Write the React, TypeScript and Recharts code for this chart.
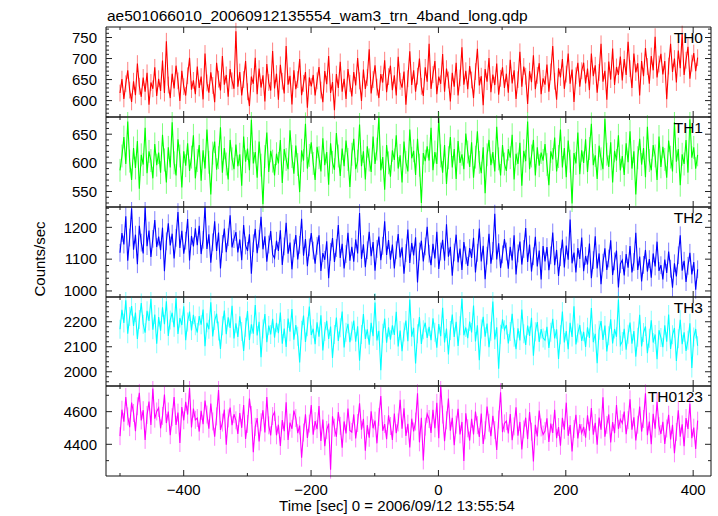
import { LineChart, Line, XAxis, YAxis, ErrorBar } from "recharts";

// wam3 light curve, 4 bands + sum, ~3 s bins
const T_START = -500;
const T_END = 407;

const th0 = [
  618, 651, 604, 640, 672, 625, 597, 646, 613, 688, 634, 609, 655, 621, 666, 590, 643, 628, 679, 611,
  652, 623, 695, 618, 741, 637, 606, 664, 629, 683, 647, 599, 671, 633, 612, 659, 702, 626, 648, 615,
  681, 630, 657, 603, 712, 642, 619, 667, 636, 596, 690, 651, 624, 706, 638, 661, 609, 675, 647, 628,
  765, 633, 668, 612, 650, 694, 621, 587, 657, 640, 702, 615, 676, 631, 660, 598, 687, 643, 624, 718,
  629, 664, 602, 685, 646, 617, 730, 638, 659, 591, 672, 627, 650, 699, 613, 641, 668, 583, 655, 634,
  661, 612, 647, 680, 625, 596, 670, 639, 706, 618, 644, 577, 663, 630, 692, 621, 652, 604, 675, 641,
  610, 668, 636, 701, 647, 599, 674, 628, 655, 722, 617, 650, 684, 632, 606, 663, 643, 696, 620, 657,
  683, 625, 660, 612, 704, 646, 631, 669, 590, 652, 717, 637, 672, 621, 658, 700, 634, 611, 679, 645,
  735, 628, 662, 694, 615, 657, 640, 711, 621, 676, 649, 598, 666, 633, 690, 612, 654, 727, 638, 671,
  627, 682, 649, 606, 669, 723, 636, 658, 589, 675, 645, 701, 620, 662, 637, 688, 614, 653, 679, 630,
  664, 619, 697, 641, 672, 604, 650, 716, 633, 681, 658, 592, 670, 644, 708, 627, 660, 689, 615, 653,
  638, 686, 621, 668, 730, 646, 602, 677, 655, 699, 628, 663, 712, 640, 674, 597, 659, 690, 633, 671,
  690, 641, 676, 625, 712, 658, 684, 619, 667, 735, 645, 671, 602, 693, 650, 724, 637, 680, 661, 705,
  648, 699, 661, 740, 676, 630, 712, 667, 689, 612, 694, 658, 725, 681, 640, 706, 672, 752, 655, 687,
  711, 662, 694, 603, 682, 735, 668, 700, 643, 719, 677, 758, 661, 696, 728, 652, 689, 713, 670, 702,
];

const th1 = [
  587, 612, 645, 598, 672, 603, 570, 626, 591, 638, 555, 614, 597, 661, 582, 620, 604, 573, 633, 596,
  618, 583, 649, 605, 566, 627, 592, 671, 600, 578, 641, 612, 557, 620, 595, 634, 586, 610, 648, 573,
  604, 631, 569, 622, 590, 658, 601, 545, 617, 637, 588, 609, 662, 583, 626, 598, 571, 640, 607, 589,
  632, 594, 615, 560, 646, 602, 625, 587, 675, 599, 619, 574, 637, 596, 528, 611, 653, 584, 621, 603,
  578, 616, 599, 640, 565, 624, 606, 589, 657, 611, 581, 630, 597, 549, 622, 604, 668, 590, 613, 636,
  599, 570, 628, 609, 585, 643, 596, 619, 562, 634, 601, 588, 652, 612, 577, 625, 594, 639, 606, 558,
  615, 642, 589, 603, 667, 594, 620, 571, 629, 605, 584, 646, 598, 624, 680, 587, 610, 553, 631, 600,
  576, 622, 605, 648, 590, 613, 566, 637, 601, 585, 658, 608, 621, 579, 642, 596, 530, 617, 603, 629,
  604, 661, 587, 619, 598, 678, 612, 583, 631, 563, 609, 645, 592, 624, 572, 638, 600, 615, 589, 651,
  619, 593, 636, 574, 610, 655, 601, 582, 627, 547, 614, 640, 596, 619, 585, 663, 607, 578, 631, 598,
  586, 624, 609, 649, 571, 616, 598, 635, 560, 621, 603, 672, 589, 612, 640, 578, 627, 595, 618, 604,
  633, 597, 561, 620, 606, 644, 585, 611, 658, 592, 626, 575, 639, 603, 529, 617, 599, 653, 580, 622,
  600, 641, 584, 625, 668, 596, 613, 572, 630, 607, 589, 677, 615, 593, 636, 566, 621, 604, 648, 587,
  612, 579, 634, 601, 655, 590, 620, 545, 609, 642, 597, 626, 575, 663, 604, 587, 631, 612, 570, 646,
  593, 628, 606, 574, 639, 610, 585, 671, 602, 624, 561, 615, 598, 640, 583, 676, 609, 627, 590, 614,
];

const th2 = [
  1120, 1182, 1146, 1235, 1095, 1168, 1260, 1130, 1177, 1084, 1205, 1152, 1118, 1263, 1141, 1190, 1107, 1164, 1223, 1138,
  1171, 1128, 1199, 1062, 1156, 1213, 1143, 1180, 1102, 1167, 1248, 1135, 1189, 1117, 1158, 1226, 1096, 1173, 1140, 1197,
  1144, 1205, 1116, 1161, 1266, 1132, 1178, 1089, 1153, 1219, 1126, 1184, 1071, 1148, 1196, 1122, 1169, 1238, 1137, 1163,
  1185, 1121, 1162, 1097, 1207, 1143, 1126, 1178, 1054, 1150, 1195, 1119, 1164, 1233, 1131, 1172, 1092, 1146, 1188, 1115,
  1103, 1158, 1126, 1191, 1082, 1140, 1214, 1117, 1152, 1068, 1134, 1176, 1099, 1145, 1227, 1111, 1163, 1078, 1137, 1182,
  1127, 1086, 1142, 1175, 1063, 1119, 1098, 1156, 1040, 1123, 1166, 1091, 1135, 1207, 1104, 1148, 1071, 1116, 1183, 1095,
  1139, 1092, 1162, 1118, 1245, 1101, 1147, 1075, 1128, 1186, 1109, 1154, 1064, 1132, 1171, 1097, 1142, 1219, 1113, 1160,
  1098, 1146, 1071, 1128, 1179, 1105, 1137, 1054, 1119, 1193, 1088, 1151, 1112, 1169, 1027, 1124, 1158, 1093, 1140, 1202,
  1117, 1081, 1148, 1102, 1186, 1069, 1124, 1161, 1095, 1210, 1108, 1139, 1048, 1121, 1177, 1090, 1133, 1066, 1154, 1112,
  1079, 1135, 1104, 1167, 1058, 1120, 1196, 1093, 1142, 1037, 1111, 1180, 1086, 1126, 1243, 1099, 1150, 1072, 1115, 1163,
  1124, 1070, 1139, 1096, 1175, 1052, 1118, 1155, 1083, 1132, 1198, 1091, 1146, 1061, 1109, 1170, 1077, 1127, 1036, 1141,
  1093, 1138, 1065, 1112, 1184, 1081, 1129, 1047, 1106, 1162, 1074, 1143, 1098, 1225, 1087, 1121, 1058, 1135, 1101, 1168,
  1062, 1110, 1083, 1149, 1040, 1097, 1172, 1071, 1118, 1021, 1089, 1134, 1066, 1102, 1159, 1050, 1093, 1127, 1011, 1085,
  1097, 1049, 1116, 1073, 1141, 1058, 1091, 1183, 1066, 1108, 1030, 1082, 1129, 1061, 1100, 1042, 1118, 1077, 1155, 1063,
  1081, 1036, 1099, 1057, 1124, 1070, 1010, 1087, 1046, 1112, 1175, 1064, 1095, 1028, 1079, 1120, 1052, 1091, 1004, 1068,
];

const th3 = [
  2170, 2248, 2195, 2286, 2152, 2221, 2263, 2183, 2237, 2131, 2209, 2275, 2190, 2156, 2244, 2203, 2291, 2168, 2229, 2112,
  2219, 2164, 2258, 2190, 2282, 2143, 2207, 2236, 2178, 2294, 2151, 2215, 2187, 2262, 2126, 2199, 2241, 2165, 2228, 2184,
  2157, 2223, 2188, 2249, 2102, 2196, 2170, 2278, 2141, 2205, 2232, 2163, 2091, 2184, 2245, 2150, 2218, 2175, 2264, 2133,
  2194, 2139, 2222, 2161, 2083, 2178, 2243, 2127, 2190, 2152, 2267, 2145, 2200, 2058, 2171, 2231, 2118, 2185, 2149, 2212,
  2136, 2196, 2154, 2237, 2112, 2173, 2099, 2213, 2160, 2251, 2128, 2187, 2142, 2037, 2166, 2225, 2119, 2180, 2261, 2147,
  2172, 2110, 2198, 2140, 2226, 2085, 2161, 2204, 2131, 2181, 2055, 2149, 2217, 2123, 2176, 2241, 2097, 2158, 2192, 2118,
  2163, 2205, 2120, 2182, 2044, 2149, 2231, 2131, 2170, 2108, 2196, 2142, 2277, 2125, 2164, 2006, 2154, 2213, 2116, 2178,
  2128, 2186, 2147, 2240, 2101, 2165, 2082, 2159, 2205, 2122, 2289, 2140, 2176, 2033, 2152, 2219, 2111, 2168, 2196, 2135,
  2180, 2126, 2214, 2158, 2096, 2191, 2142, 2256, 2117, 2173, 2069, 2165, 2229, 2139, 2200, 2103, 2184, 2292, 2146, 2177,
  2134, 2201, 2157, 2265, 2121, 2186, 2046, 2171, 2220, 2140, 2193, 2098, 2162, 2281, 2129, 2178, 2012, 2150, 2210, 2168,
  2187, 2113, 2161, 2232, 2138, 2090, 2174, 2125, 2249, 2152, 2107, 2185, 2143, 2216, 2064, 2160, 2199, 2119, 2171, 2135,
  2126, 2180, 2095, 2158, 2212, 2133, 2170, 2051, 2148, 2241, 2117, 2163, 2090, 2196, 2139, 2262, 2109, 2155, 2187, 2123,
  2160, 2099, 2178, 2135, 2255, 2118, 2152, 2034, 2166, 2203, 2127, 2185, 2081, 2144, 2210, 2113, 2171, 2140, 2289, 2106,
  2121, 2172, 2088, 2150, 2197, 2112, 2163, 2060, 2138, 2228, 2101, 2157, 2181, 2074, 2134, 2206, 2117, 2149, 2050, 2166,
  2137, 2098, 2186, 2120, 2229, 2091, 2148, 2175, 2043, 2132, 2208, 2110, 2158, 2083, 2126, 2194, 2015, 2139, 2171, 2104,
];

const th0123 = [
  4450, 4612, 4538, 4690, 4571, 4505, 4655, 4592, 4480, 4633, 4715, 4546, 4609, 4427, 4580, 4662, 4519, 4741, 4557, 4601,
  4623, 4498, 4574, 4705, 4530, 4601, 4456, 4566, 4689, 4519, 4594, 4408, 4628, 4547, 4660, 4582, 4745, 4503, 4619, 4550,
  4561, 4478, 4605, 4523, 4668, 4582, 4496, 4650, 4540, 4446, 4571, 4733, 4488, 4533, 4612, 4397, 4559, 4625, 4517, 4584,
  4547, 4463, 4592, 4501, 4640, 4433, 4525, 4680, 4580, 4352, 4507, 4561, 4418, 4535, 4609, 4472, 4690, 4516, 4455, 4573,
  4598, 4455, 4520, 4390, 4548, 4480, 4657, 4427, 4533, 4495, 4606, 4561, 4468, 4515, 4318, 4472, 4584, 4439, 4527, 4640,
  4459, 4542, 4493, 4635, 4420, 4552, 4388, 4488, 4527, 4245, 4571, 4502, 4446, 4598, 4513, 4379, 4540, 4466, 4619, 4485,
  4475, 4583, 4436, 4530, 4651, 4489, 4556, 4361, 4517, 4440, 4602, 4498, 4545, 4406, 4568, 4695, 4483, 4524, 4432, 4577,
  4512, 4427, 4589, 4468, 4534, 4673, 4495, 4620, 4451, 4526, 4380, 4557, 4479, 4539, 4712, 4412, 4563, 4301, 4508, 4586,
  4555, 4470, 4611, 4498, 4654, 4437, 4760, 4582, 4419, 4547, 4680, 4483, 4562, 4395, 4520, 4618, 4461, 4537, 4298, 4590,
  4498, 4423, 4556, 4461, 4600, 4517, 4445, 4589, 4402, 4486, 4631, 4532, 4450, 4575, 4487, 4365, 4552, 4719, 4474, 4528,
  4542, 4466, 4585, 4425, 4510, 4627, 4453, 4537, 4368, 4491, 4563, 4432, 4598, 4477, 4295, 4519, 4448, 4606, 4503, 4460,
  4481, 4559, 4415, 4527, 4470, 4612, 4438, 4506, 4391, 4562, 4489, 4655, 4452, 4518, 4357, 4494, 4581, 4436, 4524, 4469,
  4507, 4440, 4578, 4483, 4622, 4459, 4531, 4398, 4564, 4490, 4688, 4447, 4519, 4583, 4412, 4536, 4468, 4640, 4495, 4553,
  4529, 4601, 4462, 4548, 4675, 4490, 4565, 4423, 4520, 4631, 4478, 4555, 4712, 4456, 4539, 4401, 4587, 4496, 4660, 4511,
  4463, 4538, 4402, 4497, 4581, 4430, 4519, 4345, 4476, 4608, 4447, 4522, 4389, 4561, 4494, 4648, 4438, 4502, 4371, 4545,
];

// typical 1-sigma error bar per band (counts/sec)
const bandErrors = [20, 20, 28, 38, 55];

const xMajor = [-400, -200, 0, 200, 400];
const xMinor = [-500, -300, -100, 100, 300];

const panels = [
  { name: "TH0", color: "#ff0000", values: th0, domain: [561, 775], major: [600, 650, 700, 750], minorStep: 10 },
  { name: "TH1", color: "#00ff00", values: th1, domain: [523, 680], major: [550, 600, 650], minorStep: 10 },
  { name: "TH2", color: "#0000ff", values: th2, domain: [981, 1264], major: [1000, 1100, 1200], minorStep: 20 },
  { name: "TH3", color: "#00ffff", values: th3, domain: [1943, 2299], major: [2000, 2100, 2200], minorStep: 20 },
  { name: "TH0123", color: "#ff00ff", values: th0123, domain: [4206, 4757], major: [4400, 4600], minorStep: 100 },
];

const W = 718;
const X_DOMAIN: [number, number] = [-522, 428];
const PLOT_LEFT = 106;
const PLOT_RIGHT = 711;
const tops = [27, 117, 207, 297, 386];
const heights = [90, 90, 90, 89, 90];
const FONT = "'Liberation Sans', Arial, Helvetica, sans-serif";
const TICK = "#222";

const minus = (v: number) => String(v).replace("-", "\u2212");

function yTicks(domain: number[], step: number) {
  const out: number[] = [];
  for (let v = Math.ceil(domain[0] / step) * step; v <= domain[1]; v += step) out.push(v);
  return out;
}

// ticks point into the plot, majors longer; labels only where asked
const tickMark =
  (side: "left" | "right" | "top" | "bottom", majors: number[], withText: boolean, long: number, short: number) =>
  (p: any) => {
    const v = p.payload.value;
    const isMajor = majors.includes(v);
    const len = isMajor ? long : short;
    let x2 = p.x;
    let y2 = p.y;
    if (side === "left") x2 = p.x + len;
    if (side === "right") x2 = p.x - len;
    if (side === "top") y2 = p.y + len;
    if (side === "bottom") y2 = p.y - len;
    return (
      <g>
        <line x1={p.x} y1={p.y} x2={x2} y2={y2} stroke={TICK} strokeWidth={1} />
        {withText && isMajor && side === "left" && (
          <text x={p.x - 9} y={p.y} dy="0.355em" textAnchor="end" fontSize={15} fontFamily={FONT} fill="#000">
            {v}
          </text>
        )}
        {withText && isMajor && side === "bottom" && (
          <text x={p.x} y={p.y + 8} dy="0.71em" textAnchor="middle" fontSize={15} fontFamily={FONT} fill="#000">
            {minus(v)}
          </text>
        )}
      </g>
    );
  };

function Panel({ idx }: { idx: number }) {
  const p = panels[idx];
  const first = idx === 0;
  const last = idx === panels.length - 1;
  const padTop = first ? tops[0] : 5;
  const padBottom = last ? 0 : 5;
  const bottomAxisH = last ? 40 : 30;
  const chartTop = tops[idx] - padTop;
  const chartH = padTop + heights[idx] + (last ? 40 : padBottom);
  const n = p.values.length;
  const data = p.values.map((v, i) => ({ t: T_START + ((T_END - T_START) * i) / (n - 1), v, e: bandErrors[idx] }));
  const yAll = yTicks(p.domain, p.minorStep);
  const xAll = [...xMinor, ...xMajor].sort((a, b) => a - b);

  return (
    <div style={{ position: "absolute", left: 0, top: chartTop, width: W, height: chartH }}>
      <LineChart
        width={W}
        height={chartH}
        data={data}
        margin={{ top: padTop, right: W - PLOT_RIGHT, bottom: padBottom, left: 0 }}
      >
        <XAxis
          xAxisId="b"
          dataKey="t"
          type="number"
          orientation="bottom"
          mirror={!last}
          height={bottomAxisH}
          domain={X_DOMAIN}
          allowDataOverflow
          ticks={xAll}
          interval={0}
          tickSize={0}
          tickMargin={0}
          tickLine={false}
          axisLine={{ stroke: "#111" }}
          tick={tickMark("bottom", xMajor, last, 6, 3)}
          label={
            last
              ? {
                  content: () => (
                    <text x={397} y={chartH - 5.5} textAnchor="middle" fontSize={15} fontFamily={FONT} fill="#000">
                      Time [sec] 0 = 2006/09/12 13:55:54
                    </text>
                  ),
                }
              : undefined
          }
        />
        <XAxis
          xAxisId="t"
          dataKey="t"
          type="number"
          orientation="top"
          mirror
          height={30}
          domain={X_DOMAIN}
          allowDataOverflow
          ticks={xAll}
          interval={0}
          tickSize={0}
          tickMargin={0}
          tickLine={false}
          axisLine={{ stroke: "#111" }}
          tick={tickMark("top", xMajor, false, 6, 3)}
          label={
            first
              ? {
                  content: () => (
                    <text x={PLOT_LEFT + 1} y={21} fontSize={15.5} fontFamily={FONT} fill="#000">
                      ae501066010_20060912135554_wam3_trn_4band_long.qdp
                    </text>
                  ),
                }
              : undefined
          }
        />
        <YAxis
          yAxisId="l"
          type="number"
          orientation="left"
          width={PLOT_LEFT}
          domain={p.domain}
          allowDataOverflow
          ticks={yAll}
          interval={0}
          tickSize={0}
          tickMargin={0}
          tickLine={false}
          axisLine={{ stroke: "#111" }}
          tick={tickMark("left", p.major, true, 6, 3)}
          label={
            idx === 2
              ? {
                  content: () => (
                    <text
                      x={45}
                      y={259 - chartTop}
                      transform={`rotate(-90 45 ${259 - chartTop})`}
                      textAnchor="middle"
                      fontSize={15}
                      fontFamily={FONT}
                      fill="#000"
                    >
                      Counts/sec
                    </text>
                  ),
                }
              : undefined
          }
        />
        <YAxis
          yAxisId="r"
          type="number"
          orientation="right"
          mirror
          width={60}
          domain={p.domain}
          allowDataOverflow
          ticks={yAll}
          interval={0}
          tickSize={0}
          tickMargin={0}
          tickLine={false}
          axisLine={{ stroke: "#111" }}
          tick={tickMark("right", p.major, false, 6, 3)}
          label={{
            content: () => (
              <text x={PLOT_RIGHT - 8} y={padTop + 16} textAnchor="end" fontSize={15.5} fontFamily={FONT} fill="#000">
                {p.name}
              </text>
            ),
          }}
        />
        {/* pale error bars underneath */}
        <Line
          xAxisId="b"
          yAxisId="l"
          dataKey="v"
          stroke="none"
          dot={false}
          activeDot={false}
          isAnimationActive={false}
        >
          <ErrorBar dataKey="e" width={0} stroke={p.color} strokeOpacity={0.5} strokeWidth={1} isAnimationActive={false} />
        </Line>
        <Line
          xAxisId="b"
          yAxisId="l"
          dataKey="v"
          type="linear"
          stroke={p.color}
          strokeWidth={1.1}
          dot={false}
          isAnimationActive={false}
        />
      </LineChart>
    </div>
  );
}

export default function App() {
  return (
    <div style={{ position: "absolute", left: 0, top: 0, width: W, height: 516, background: "#fff", overflow: "hidden" }}>
      {panels.map((_, i) => (
        <Panel key={i} idx={i} />
      ))}
    </div>
  );
}
